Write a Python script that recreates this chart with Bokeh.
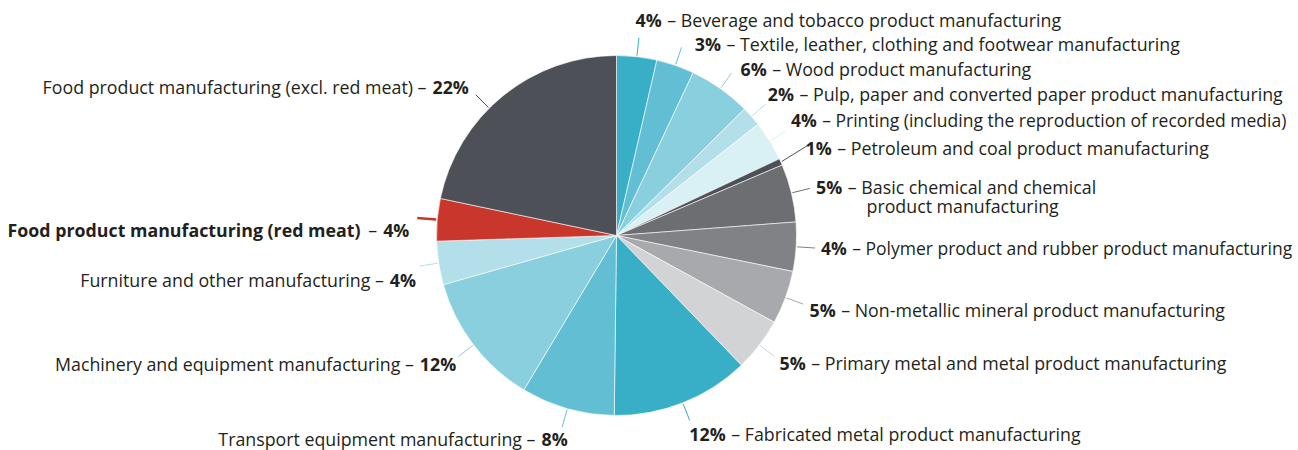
import numpy as np
from bokeh.plotting import figure
from bokeh.models import Range1d
from bokeh.embed import file_html
from bokeh.resources import INLINE
from bokeh.core.properties import value

# ---------------- data ----------------
categories = [
    "Beverage and tobacco product manufacturing",
    "Textile, leather, clothing and footwear manufacturing",
    "Wood product manufacturing",
    " Pulp, paper and converted paper product manufacturing",
    "Printing (including the reproduction of recorded media)",
    "Petroleum and coal product manufacturing",
    "Basic chemical and chemical\nproduct manufacturing",
    "Polymer product and rubber product manufacturing",
    "Non-metallic mineral product manufacturing",
    "Primary metal and metal product manufacturing",
    "Fabricated metal product manufacturing",
    "Transport equipment manufacturing",
    "Machinery and equipment manufacturing",
    "Furniture and other manufacturing",
    "Food product manufacturing (red meat)",
    "Food product manufacturing (excl. red meat)",
]
shares = [3.6, 3.4, 5.6, 1.8, 3.6, 0.6, 5.2, 4.4, 4.8, 4.8, 12.4, 8.4, 12.0, 3.9, 3.8, 21.7]
pct_labels = ["4%", "3%", "6%", "2%", "4%", "1%", "5%", "4%", "5%", "5%",
              "12%", "8%", "12%", "4%", "4%", "22%"]
colors = ["#38afc7", "#62bfd3", "#89cfdd", "#b2dfe9", "#d9f0f4", "#4d5157",
          "#6d6e71", "#818285", "#a8a9ac", "#d2d3d5", "#38afc7", "#62bfd3",
          "#89cfdd", "#b2dfe9", "#c9372c", "#4d5157"]

# ---------------- layout ----------------
W, H = 1298, 450
CX, CY, R = 616, 235, 180          # picture pixel coordinates
FONT = "Open Sans"
FS = "17.8px"
FS_LONG = "17.5px"                 # for the two longest right-hand labels
TXT = "#231f20"
GAP = 5.5

def Y(py):
    return 450 - py

p = figure(width=W, height=H, output_backend="svg", toolbar_location=None,
           x_range=Range1d(0, W), y_range=Range1d(450 - H, 450),
           min_border=0, outline_line_color=None)
p.axis.visible = False
p.grid.visible = False

vals = np.array(shares, dtype=float)
frac = vals / vals.sum()
cum = np.concatenate([[0], np.cumsum(frac)])
theta1 = cum[:-1] * 360.0
theta2 = cum[1:] * 360.0
start = np.radians(90 - theta1)
end = np.radians(90 - theta2)

p.wedge(x=CX, y=Y(CY), radius=R, start_angle=start, end_angle=end,
        direction="clock", fill_color=colors, line_color="white", line_width=0.6)

# leader lines
mid = (theta1 + theta2) / 2.0
lead_angle = mid.copy()
lead_angle[15] = 315.0
xs, ys = [], []
for i, a in enumerate(lead_angle):
    ar = np.radians(a)
    sx, sy = CX + 181 * np.sin(ar), CY - 181 * np.cos(ar)
    if i == 5:
        ex, ey = CX + 211 * np.sin(np.radians(64.8)), CY - 211 * np.cos(np.radians(64.8))
    elif i == 14:
        ex, ey = CX + 200 * np.sin(ar), CY - 200 * np.cos(ar)
    else:
        ex, ey = CX + 199 * np.sin(ar), CY - 199 * np.cos(ar)
    xs.append([sx, ex]); ys.append([Y(sy), Y(ey)])
lw = [1.0] * 16
lw[14] = 2.5
p.multi_line(xs=xs, ys=ys, line_color=colors, line_width=lw)

# right-side labels (indices 0..10)
right_dash_x = [666.7, 726, 771.7, 799, 821.7, 836.7, 847.3, 851.7, 840.7, 810.7, 730.7]
right_y = [20.7, 44.3, 69.3, 94.3, 120, 148.3, 187.3, 248.3, 310, 363.3, 434]
BOFF = -0.8

for i in range(11):
    fs = FS_LONG if i in (4, 7) else FS
    yb = Y(right_y[i] + BOFF)
    p.text(x=[right_dash_x[i] - GAP], y=[yb], text=[pct_labels[i]], text_font=value(FONT),
           text_font_size=fs, text_font_style="bold", text_color=TXT,
           text_align="right", text_baseline="alphabetic")
    lines = categories[i].split("\n")
    p.text(x=[right_dash_x[i]], y=[yb], text=["– " + lines[0]], text_font=value(FONT),
           text_font_size=fs, text_color=TXT, text_align="left", text_baseline="alphabetic")
    if len(lines) > 1:
        p.text(x=[866], y=[Y(206 + BOFF)], text=[lines[1]], text_font=value(FONT),
               text_font_size=fs, text_color=TXT, text_align="left",
               text_baseline="alphabetic")

# left-side labels (indices 11..15)
left_dash_right = [535, 413.3, 383.3, 376.7, 426]
left_y = [438.8, 364.3, 280, 230, 87.3]
for k, i in enumerate(range(11, 16)):
    yb = Y(left_y[k] + BOFF)
    p.text(x=[left_dash_right[k] + GAP + 0.5], y=[yb], text=[pct_labels[i]],
           text_font=value(FONT), text_font_size=FS, text_font_style="bold",
           text_color=TXT, text_align="left", text_baseline="alphabetic")
    if i == 14:
        p.text(x=[left_dash_right[k]], y=[yb], text=["–"], text_font=value(FONT),
               text_font_size=FS, text_color=TXT, text_align="right",
               text_baseline="alphabetic")
        p.text(x=[360], y=[yb], text=[categories[i]], text_font=value(FONT),
               text_font_size=FS, text_font_style="bold", text_color=TXT,
               text_align="right", text_baseline="alphabetic")
    else:
        p.text(x=[left_dash_right[k]], y=[yb], text=[categories[i] + " –"],
               text_font=value(FONT), text_font_size=FS, text_color=TXT,
               text_align="right", text_baseline="alphabetic")

open("out.html", "w").write(file_html(p, INLINE))
